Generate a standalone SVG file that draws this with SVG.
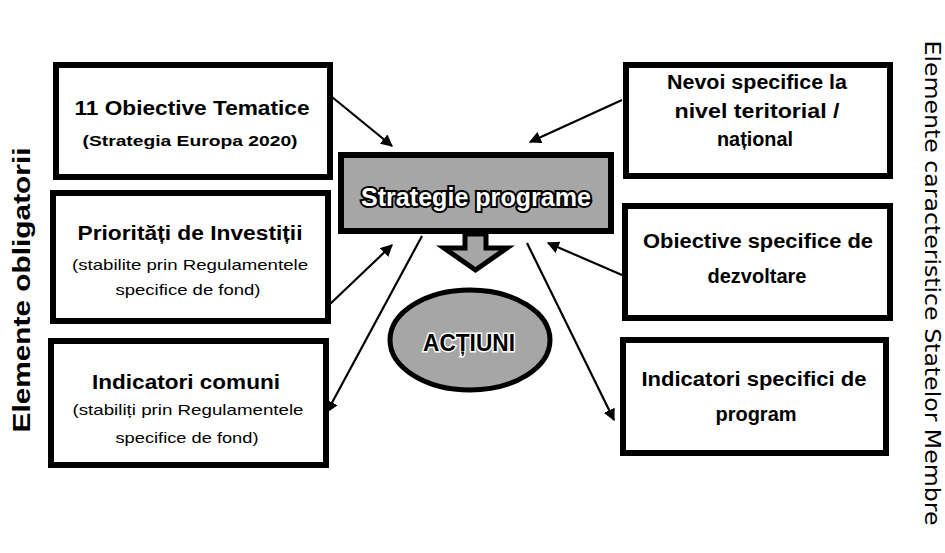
<svg xmlns="http://www.w3.org/2000/svg" width="945" height="553" viewBox="0 0 945 553">
<defs>
<style>
.box{fill:#ffffff;stroke:#000;stroke-width:6}
.t{font-family:"Liberation Sans",Arial,sans-serif;text-anchor:middle;fill:#000}
.b{font-weight:bold}
.big{font-size:20px}
.sm{font-size:15px}
.conn{stroke:#000;stroke-width:2.2;fill:none;marker-end:url(#ah)}
</style>
<marker id="ah" viewBox="0 0 10 10" refX="9" refY="5" markerWidth="5.5" markerHeight="5.5" orient="auto" markerUnits="strokeWidth">
<path d="M0,0 L10,5 L0,10 z" fill="#000"/>
</marker>
</defs>
<rect width="945" height="553" fill="#fff"/>

<text class="t b" font-size="24" textLength="285" lengthAdjust="spacingAndGlyphs" transform="translate(30,290) rotate(-90)">Elemente obligatorii</text>
<text class="t" style="font-family:'DejaVu Sans',sans-serif" font-size="21" textLength="485" lengthAdjust="spacingAndGlyphs" transform="translate(925,283) rotate(90)">Elemente caracteristice Statelor Membre</text>

<g id="connectors">
<line class="conn" x1="332" y1="97" x2="392" y2="146"/>
<line class="conn" x1="622" y1="100" x2="530" y2="142"/>
<line class="conn" x1="329" y1="305" x2="392" y2="245"/>
<line class="conn" x1="622" y1="275" x2="548" y2="243"/>
<line class="conn" x1="422" y1="236" x2="327" y2="412"/>
<line class="conn" x1="527" y1="243" x2="614" y2="420"/>
</g>

<g id="obiective-tematice">
<rect class="box" x="56" y="65" width="274" height="112"/>
<text class="t b big" x="192" y="115" textLength="235" lengthAdjust="spacingAndGlyphs">11 Obiective Tematice</text>
<text class="t b sm" x="190" y="146" textLength="215" lengthAdjust="spacingAndGlyphs">(Strategia Europa 2020)</text>
</g>

<g id="prioritati">
<rect class="box" x="53" y="193" width="275" height="128"/>
<text class="t b big" x="190" y="240" textLength="225" lengthAdjust="spacingAndGlyphs">Priorități de Investiții</text>
<text class="t sm" x="190" y="270" textLength="236" lengthAdjust="spacingAndGlyphs">(stabilite prin Regulamentele</text>
<text class="t sm" x="188" y="295" textLength="145" lengthAdjust="spacingAndGlyphs">specifice de fond)</text>
</g>

<g id="indicatori-comuni">
<rect class="box" x="51" y="341" width="275" height="124"/>
<text class="t b big" x="186" y="389" textLength="188" lengthAdjust="spacingAndGlyphs">Indicatori comuni</text>
<text class="t sm" x="188" y="415" textLength="231" lengthAdjust="spacingAndGlyphs">(stabiliți prin Regulamentele</text>
<text class="t sm" x="187" y="443" textLength="143" lengthAdjust="spacingAndGlyphs">specifice de fond)</text>
</g>

<g id="nevoi">
<rect class="box" x="626" y="65" width="264" height="111"/>
<text class="t b big" x="757" y="89" textLength="180" lengthAdjust="spacingAndGlyphs">Nevoi specifice la</text>
<text class="t b big" x="757" y="118" textLength="165" lengthAdjust="spacingAndGlyphs">nivel teritorial /</text>
<text class="t b big" x="755" y="146" textLength="76" lengthAdjust="spacingAndGlyphs">național</text>
</g>

<g id="obiective-specifice">
<rect class="box" x="625" y="206" width="265" height="112"/>
<text class="t b big" x="758" y="248" textLength="230" lengthAdjust="spacingAndGlyphs">Obiective specifice de</text>
<text class="t b big" x="757" y="283">dezvoltare</text>
</g>

<g id="indicatori-specifici">
<rect class="box" x="623" y="340" width="263" height="113"/>
<text class="t b big" x="754" y="386" textLength="225" lengthAdjust="spacingAndGlyphs">Indicatori specifici de</text>
<text class="t b big" x="756" y="421">program</text>
</g>

<g id="strategie">
<rect x="341" y="155" width="270" height="76" fill="#a6a6a6" stroke="#000" stroke-width="6"/>
<text class="t b" font-size="25" x="476" y="206" stroke="#000" stroke-width="4" paint-order="stroke" style="fill:#fff" textLength="230" lengthAdjust="spacingAndGlyphs">Strategie programe</text>
</g>

<g id="sageata-jos">
<path d="M465,234 L486,234 L486,248 L507,248 L475.5,270 L444,248 L465,248 Z" fill="#a6a6a6" stroke="#000" stroke-width="5" stroke-linejoin="miter"/>
</g>

<g id="actiuni">
<ellipse cx="470" cy="340" rx="80" ry="50" fill="#a6a6a6" stroke="#000" stroke-width="5"/>
<text class="t b" font-size="24" x="469" y="351" stroke="#fff" stroke-width="3" paint-order="stroke" textLength="92" lengthAdjust="spacingAndGlyphs">ACȚIUNI</text>
</g>
</svg>
